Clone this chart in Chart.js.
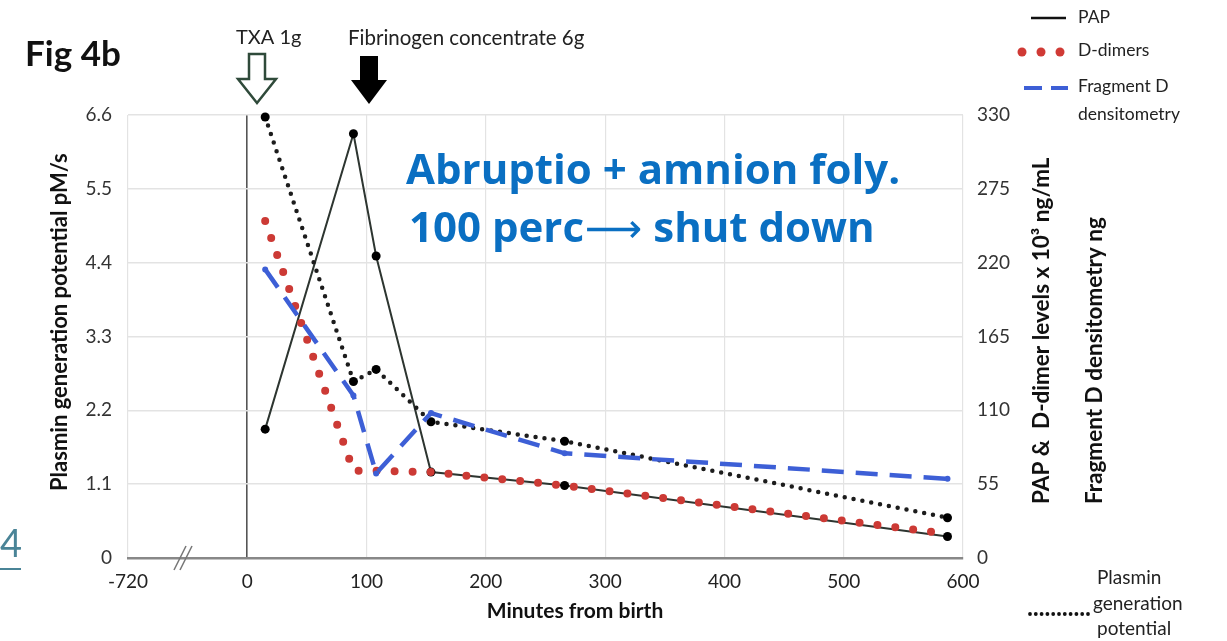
<!DOCTYPE html>
<html>
<head>
<meta charset="utf-8">
<script src="https://cdn.jsdelivr.net/npm/chart.js@4.4.1/dist/chart.umd.min.js"></script>
<style>
  html, body { margin: 0; padding: 0; background: #fff; }
</style>
</head>
<body>
<canvas id="fig4b" width="1227" height="641"></canvas>
<script>
// values (minutes from birth)
const minutes = [15, 89, 108, 154, 266, 587];
const pap = [96, 316, 225, 64, 54, 16];          // x10^3 ng/mL, right axis
const dDimers = [251, 65, 65, 64, 54, 18];       // x10^3 ng/mL, right axis
const fragmentD = [215, 121, 63, 108, 78, 59];   // ng, right axis
const plasminGen = [6.57, 2.63, 2.81, 2.03, 1.74, 0.6]; // pM/s, left axis

// broken axis: the "-720" tick sits at the left edge of the plot
const xTicks = [-100, 0, 100, 200, 300, 400, 500, 600];
const xTickLabels = ['-720', '0', '100', '200', '300', '400', '500', '600'];
const leftTicks = [0, 1.1, 2.2, 3.3, 4.4, 5.5, 6.6];
const rightTicks = [0, 55, 110, 165, 220, 275, 330];

Chart.defaults.font.family = "Lato, 'Open Sans', sans-serif";
Chart.defaults.color = '#333';

function pts(ys) {
  return minutes.map((m, i) => ({ x: m, y: ys[i] }));
}

function arrowPath(ctx, cx, top, tip, shaft, head) {
  ctx.beginPath();
  ctx.moveTo(cx - shaft, top);
  ctx.lineTo(cx + shaft, top);
  ctx.lineTo(cx + shaft, tip - 24);
  ctx.lineTo(cx + head, tip - 24);
  ctx.lineTo(cx, tip);
  ctx.lineTo(cx - head, tip - 24);
  ctx.lineTo(cx - shaft, tip - 24);
  ctx.closePath();
}

function upText(ctx, text, x, bottom) {
  ctx.save();
  ctx.translate(x, bottom);
  ctx.rotate(-Math.PI / 2);
  ctx.textAlign = 'left';
  ctx.fillText(text, 0, 0);
  ctx.restore();
}

const extras = {
  id: 'extras',
  afterDraw(chart) {
    const ctx = chart.ctx;
    ctx.save();
    ctx.textBaseline = 'middle';
    ctx.textAlign = 'left';

    // figure label
    ctx.fillStyle = '#111';
    ctx.font = "bold 35px Lato";
    ctx.fillText('Fig 4b', 25, 55);

    // treatment labels
    ctx.fillStyle = '#222';
    ctx.font = "20px Lato";
    ctx.fillText('TXA 1g', 236, 38);
    ctx.font = "20.5px Lato";
    ctx.fillText('Fibrinogen concentrate 6g', 348, 38);

    // open arrow (TXA) and filled arrow (fibrinogen)
    arrowPath(ctx, 257, 54, 103, 8, 19);
    ctx.fillStyle = '#fff';
    ctx.fill();
    ctx.lineWidth = 2.5;
    ctx.strokeStyle = '#2f4a3a';
    ctx.stroke();
    arrowPath(ctx, 369, 56, 104, 9, 18);
    ctx.fillStyle = '#000';
    ctx.fill();

    // axis break mark
    ctx.strokeStyle = '#777';
    ctx.lineWidth = 1.5;
    [0, 6].forEach(d => {
      ctx.beginPath();
      ctx.moveTo(174 + d, 570);
      ctx.lineTo(186 + d, 546);
      ctx.stroke();
    });

    // axis titles
    ctx.fillStyle = '#111';
    ctx.font = "bold 21px Lato";
    ctx.textAlign = 'center';
    ctx.fillText('Minutes from birth', 575, 611);
    ctx.font = "bold 22px Lato";
    upText(ctx, 'Plasmin generation potential pM/s', 60, 491);
    ctx.font = "bold 22.5px Lato";
    upText(ctx, 'PAP &  D-dimer levels x 10\u00b3 ng/mL', 1042, 504);
    upText(ctx, 'Fragment D densitometry ng', 1095, 504);

    // blue note
    ctx.fillStyle = '#0a6fc2';
    ctx.textAlign = 'left';
    ctx.font = "bold 42px 'Open Sans'";
    ctx.fillText('Abruptio + amnion foly.', 406, 172);
    let x = 409;
    ctx.fillText('100 perc', x, 230);
    x += ctx.measureText('100 perc').width + 1;
    ctx.font = "40px 'DejaVu Sans'";
    ctx.fillText('\u27f6', x, 232);
    x += ctx.measureText('\u27f6').width;
    ctx.font = "bold 42px 'Open Sans'";
    ctx.fillText(' shut down', x, 230);

    // stray teal "4"
    ctx.fillStyle = '#4a8497';
    ctx.font = "38px Lato";
    ctx.fillText('4', 0, 545);
    ctx.fillRect(0, 568, 21, 2);

    // legend (top right)
    ctx.font = "17.5px Lato";
    ctx.fillStyle = '#222';
    ctx.fillText('PAP', 1078, 17);
    ctx.fillText('D-dimers', 1078, 50);
    ctx.fillText('Fragment D', 1078, 86);
    ctx.fillText('densitometry', 1078, 114);
    ctx.strokeStyle = '#111';
    ctx.lineWidth = 2.5;
    ctx.beginPath();
    ctx.moveTo(1031, 18);
    ctx.lineTo(1066, 18);
    ctx.stroke();
    ctx.fillStyle = '#d03a35';
    [1022, 1041, 1060].forEach(cx => {
      ctx.beginPath();
      ctx.arc(cx, 52, 4.5, 0, Math.PI * 2);
      ctx.fill();
    });
    ctx.strokeStyle = '#3d5fd6';
    ctx.lineWidth = 4;
    [[1024, 1042], [1051, 1068]].forEach(([a, b]) => {
      ctx.beginPath();
      ctx.moveTo(a, 88);
      ctx.lineTo(b, 88);
      ctx.stroke();
    });

    // legend (bottom right)
    ctx.fillStyle = '#222';
    ctx.font = "19px Lato";
    ctx.fillText('Plasmin', 1097, 578);
    ctx.fillText('generation', 1093, 604);
    ctx.fillText('potential', 1097, 629);
    ctx.fillStyle = '#111';
    for (let d = 1030; d <= 1088; d += 5.8) {
      ctx.beginPath();
      ctx.arc(d, 614, 1.9, 0, Math.PI * 2);
      ctx.fill();
    }
    ctx.restore();
  }
};

new Chart(document.getElementById('fig4b').getContext('2d'), {
  type: 'line',
  data: {
    datasets: [
      {
        label: 'Fragment D densitometry',
        data: pts(fragmentD),
        yAxisID: 'y2',
        borderColor: '#3d5fd6',
        backgroundColor: '#3d5fd6',
        borderWidth: 4.5,
        borderDash: [22, 12],
        pointRadius: 3,
        pointBorderWidth: 0,
      },
      {
        label: 'Plasmin generation potential',
        data: pts(plasminGen),
        yAxisID: 'y',
        borderColor: '#1c1c1c',
        backgroundColor: '#000',
        borderWidth: 4.5,
        borderDash: [0, 9],
        borderCapStyle: 'round',
        pointRadius: 4.5,
        pointBorderWidth: 0,
      },
      {
        label: 'D-dimers',
        data: pts(dDimers),
        yAxisID: 'y2',
        borderColor: '#cc3a35',
        borderWidth: 8,
        borderDash: [0, 18],
        borderCapStyle: 'round',
        pointRadius: 0,
      },
      {
        label: 'PAP',
        data: pts(pap),
        yAxisID: 'y2',
        borderColor: '#2d3530',
        backgroundColor: '#000',
        borderWidth: 2,
        pointRadius: 4.5,
        pointBorderWidth: 0,
      },
    ]
  },
  options: {
    responsive: false,
    animation: false,
    clip: false,
    layout: { padding: { top: 115, left: 0, right: 0, bottom: 0 } },
    plugins: { legend: { display: false }, tooltip: { enabled: false } },
    elements: { line: { tension: 0 } },
    scales: {
      x: {
        type: 'linear',
        min: -100,
        max: 600,
        afterBuildTicks: s => { s.ticks = xTicks.map(v => ({ value: v })); },
        afterFit: s => { s.height = 83; },
        ticks: {
          callback: v => xTickLabels[xTicks.indexOf(v)],
          font: { size: 19 },
          color: '#222',
          padding: 12,
          maxRotation: 0,
        },
        grid: {
          drawTicks: false,
          color: c => (c.tick && c.tick.value === 0) ? '#555' : '#e3e3e3',
          lineWidth: c => (c.tick && c.tick.value === 0) ? 1.6 : 1.2,
        },
        border: { color: '#888', width: 2.5 },
      },
      y: {
        position: 'left',
        min: 0,
        max: 6.6,
        afterBuildTicks: s => { s.ticks = leftTicks.map(v => ({ value: v })); },
        afterFit: s => { s.width = 128; },
        ticks: {
          callback: v => v === 0 ? '0' : v.toFixed(1),
          font: { size: 19 },
          color: '#333',
          padding: 16,
        },
        grid: { drawTicks: false, color: '#e3e3e3', lineWidth: 1.5 },
        border: { display: false },
      },
      y2: {
        position: 'right',
        min: 0,
        max: 330,
        afterBuildTicks: s => { s.ticks = rightTicks.map(v => ({ value: v })); },
        afterFit: s => { s.width = 264; },
        ticks: { font: { size: 19 }, color: '#333', padding: 14 },
        grid: { drawOnChartArea: false, drawTicks: false },
        border: { display: false },
      },
    },
  },
  plugins: [extras],
});
</script>
</body>
</html>
